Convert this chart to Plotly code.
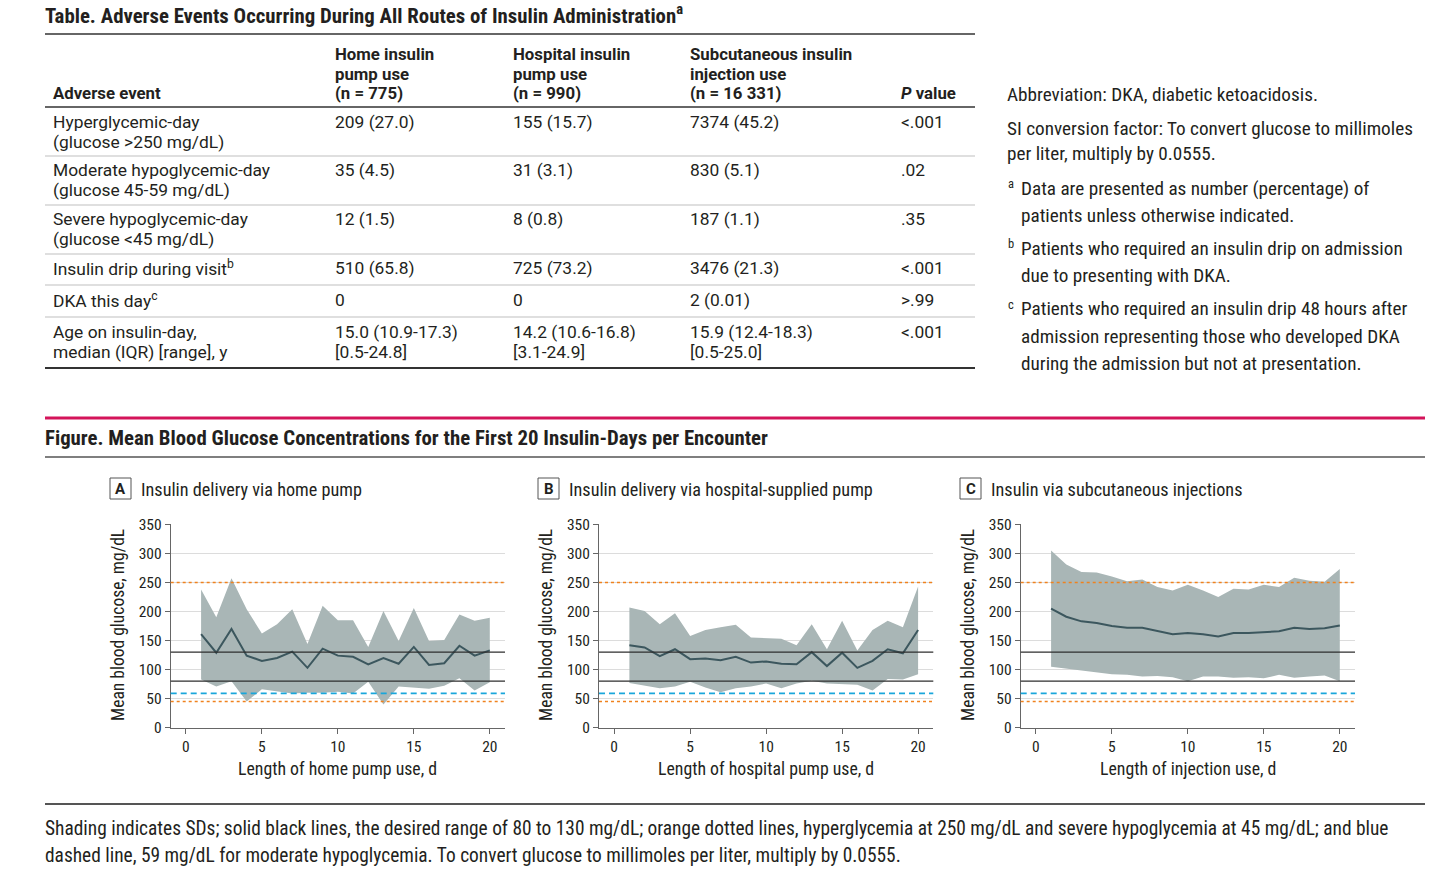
import plotly.graph_objects as go

W, H = 1456, 876
def X(p): return p / W
def Y(p): return 1 - p / H

# ---------------- data ----------------
days = list(range(1, 21))

home_mean  = [161, 129, 170, 124, 115, 120, 131, 103, 136, 124, 122, 109, 120, 110, 139, 108, 111, 141, 124, 133]
home_upper = [238, 190, 257, 204, 162, 178, 204, 144, 210, 185, 185, 139, 201, 149, 206, 149, 151, 195, 184, 189]
home_lower = [83, 71, 80, 45, 66, 63, 59, 60, 60, 62, 59, 79, 40, 71, 69, 67, 72, 85, 64, 78]

hosp_mean  = [142, 138, 123, 135, 118, 119, 116, 122, 112, 114, 110, 109, 130, 106, 129, 103, 115, 135, 128, 168]
hosp_upper = [207, 201, 178, 197, 158, 168, 173, 177, 155, 154, 153, 142, 178, 135, 184, 133, 168, 184, 173, 243]
hosp_lower = [77, 73, 68, 71, 79, 69, 61, 68, 71, 76, 68, 76, 81, 76, 75, 74, 64, 84, 83, 92]

inj_mean  = [205, 191, 183, 180, 175, 172, 172, 166, 161, 163, 161, 157, 163, 163, 165, 166, 172, 170, 171, 176]
inj_upper = [305, 281, 268, 267, 260, 252, 255, 242, 236, 246, 236, 225, 239, 238, 246, 242, 258, 253, 251, 273]
inj_lower = [105, 102, 98, 95, 92, 91, 88, 89, 87, 80, 88, 88, 86, 87, 85, 91, 86, 88, 90, 80]

target_range = [130, 80]        # solid black lines
orange_limits = [250, 45]       # orange dotted lines
blue_limit = [59]               # blue dashed line

x_ticks = [0, 5, 10, 15, 20]
y_ticks = [0, 50, 100, 150, 200, 250, 300, 350]

panel_letters = ["A", "B", "C"]
panel_titles = ["Insulin delivery via home pump",
                "Insulin delivery via hospital-supplied pump",
                "Insulin via subcutaneous injections"]
x_titles = ["Length of home pump use, d",
            "Length of hospital pump use, d",
            "Length of injection use, d"]
y_title = "Mean blood glucose, mg/dL"

table_title = "Table. Adverse Events Occurring During All Routes of Insulin Administration<sup>a</sup>"
header = [["Adverse event"],
          ["Home insulin", "pump use", "(n = 775)"],
          ["Hospital insulin", "pump use", "(n = 990)"],
          ["Subcutaneous insulin", "injection use", "(n = 16 331)"],
          ["<i>P</i> value"]]
event_col = [["Hyperglycemic-day", "(glucose &gt;250 mg/dL)"],
             ["Moderate hypoglycemic-day", "(glucose 45-59 mg/dL)"],
             ["Severe hypoglycemic-day", "(glucose &lt;45 mg/dL)"],
             ["Insulin drip during visit<sup>b</sup>"],
             ["DKA this day<sup>c</sup>"],
             ["Age on insulin-day,", "median (IQR) [range], y"]]
home_col = [["209 (27.0)"], ["35 (4.5)"], ["12 (1.5)"], ["510 (65.8)"], ["0"],
            ["15.0 (10.9-17.3)", "[0.5-24.8]"]]
hosp_col = [["155 (15.7)"], ["31 (3.1)"], ["8 (0.8)"], ["725 (73.2)"], ["0"],
            ["14.2 (10.6-16.8)", "[3.1-24.9]"]]
subq_col = [["7374 (45.2)"], ["830 (5.1)"], ["187 (1.1)"], ["3476 (21.3)"], ["2 (0.01)"],
            ["15.9 (12.4-18.3)", "[0.5-25.0]"]]
p_col = [["&lt;.001"], [".02"], [".35"], ["&lt;.001"], ["&gt;.99"], ["&lt;.001"]]

notes_plain = [["Abbreviation: DKA, diabetic ketoacidosis."],
               ["SI conversion factor: To convert glucose to millimoles", "per liter, multiply by 0.0555."]]
notes_foot = [("a", ["Data are presented as number (percentage) of", "patients unless otherwise indicated."]),
              ("b", ["Patients who required an insulin drip on admission", "due to presenting with DKA."]),
              ("c", ["Patients who required an insulin drip 48 hours after",
                     "admission representing those who developed DKA",
                     "during the admission but not at presentation."])]

figure_title = "Figure. Mean Blood Glucose Concentrations for the First 20 Insulin-Days per Encounter"
caption = ["Shading indicates SDs; solid black lines, the desired range of 80 to 130 mg/dL; orange dotted lines, hyperglycemia at 250 mg/dL and severe hypoglycemia at 45 mg/dL; and blue",
           "dashed line, 59 mg/dL for moderate hypoglycemia. To convert glucose to millimoles per liter, multiply by 0.0555."]

# ---------------- style ----------------
NARROW = "Liberation Sans Narrow, Arial Narrow, Roboto Condensed, Roboto"
BODY = "Roboto, Noto Sans, sans-serif"
TXT = "#231F20"
BAND = "#A9B6B6"
MEAN = "#3C575E"
ORANGE = "#F0821E"
BLUE = "#1AA6DB"

fig = go.Figure()
anns = []
shapes = []

def txt(x, y, s, size=17, family=BODY, color=TXT, anchor="left", **kw):
    if anchor == "left":
        x = x - 2
    anns.append(dict(x=X(x), y=Y(y), xref="paper", yref="paper", text=s, showarrow=False,
                     xanchor=anchor, yanchor="middle", font=dict(size=size, family=family, color=color), **kw))

def hline(x0, x1, y, color="#333", width=1.5):
    shapes.append(dict(type="line", xref="paper", yref="paper", x0=X(x0), x1=X(x1), y0=Y(y), y1=Y(y),
                       line=dict(color=color, width=width)))

# ---------------- table ----------------
txt(45, 14, "<b>" + table_title + "</b>", size=20.8, family=NARROW)
hline(45, 975, 34, "#333", 1.5)
hline(45, 975, 107, "#333", 1.5)
hline(45, 975, 368, "#333", 2.2)

col_x = [53, 335, 513, 690, 901]
for cx, lines in zip(col_x, header):
    n = len(lines)
    for i, s in enumerate(lines):
        txt(cx, 93 - (n - 1 - i) * 19.5, "<b>" + s + "</b>", size=16.8, family=BODY)

row_y = [122, 170, 219, 268, 300, 332]
sep_y = [156, 205, 254, 285, 317]
for sy in sep_y:
    hline(45, 975, sy, "#D5D5D5", 1.5)
for cx, col in zip(col_x, [event_col, home_col, hosp_col, subq_col, p_col]):
    for ry, lines in zip(row_y, col):
        for i, s in enumerate(lines):
            txt(cx, ry + i * 20, s, size=17.4, family=BODY)

# notes at the right
ny = [95, 128, 154]
k = 0
for block in notes_plain:
    for s in block:
        txt(1007, ny[k], s, size=19.2, family=NARROW)
        k += 1
foot_y = [188, 248, 309]
for (letter, lines), fy in zip(notes_foot, foot_y):
    txt(1008, fy - 5, letter, size=12.5, family=NARROW)
    for i, s in enumerate(lines):
        txt(1021, fy + i * 27, s, size=19.2, family=NARROW)

# ---------------- figure header/footer ----------------
shapes.append(dict(type="line", xref="paper", yref="paper", x0=X(45), x1=X(1425), y0=Y(418), y1=Y(418),
                   line=dict(color="#D4145A", width=3)))
txt(45, 438, "<b>" + figure_title + "</b>", size=20.8, family=NARROW)
hline(45, 1425, 457, "#555", 1.5)
hline(45, 1425, 804, "#555", 2)
txt(45, 828, caption[0], size=19.4, family=NARROW)
txt(45, 855, caption[1], size=19.4, family=NARROW)

# ---------------- panels ----------------
dom_x = [(170.7, 505.0), (599.0, 933.3), (1020.7, 1355.0)]
dom_y = [Y(727.7), Y(524.3)]
box_x = [110, 538, 960]
ytitle_x = [118, 546, 968]

series = [(home_mean, home_upper, home_lower),
          (hosp_mean, hosp_upper, hosp_lower),
          (inj_mean, inj_upper, inj_lower)]

layout_axes = {}
for i, (mean, up, lo) in enumerate(series):
    sfx = "" if i == 0 else str(i + 1)
    xa, ya = "x" + sfx, "y" + sfx
    fig.add_trace(go.Scatter(x=days, y=up, mode="lines", line=dict(width=0, color=BAND),
                             xaxis=xa, yaxis=ya, showlegend=False, hoverinfo="skip"))
    fig.add_trace(go.Scatter(x=days, y=lo, mode="lines", line=dict(width=0, color=BAND),
                             fill="tonexty", fillcolor=BAND, xaxis=xa, yaxis=ya,
                             showlegend=False, hoverinfo="skip"))
    fig.add_trace(go.Scatter(x=days, y=mean, mode="lines", line=dict(width=2, color=MEAN),
                             xaxis=xa, yaxis=ya, showlegend=False))
    layout_axes["xaxis" + sfx] = dict(domain=[X(dom_x[i][0]), X(dom_x[i][1])], anchor=ya,
                                      range=[-1, 21], tickvals=x_ticks, showgrid=False, zeroline=False,
                                      showline=True, linecolor="#666", linewidth=1, automargin=False,
                                      ticks="outside", ticklen=5, tickcolor="#666",
                                      tickfont=dict(family=NARROW, size=15.5, color=TXT))
    layout_axes["yaxis" + sfx] = dict(domain=dom_y, anchor=xa, range=[0, 350], tickvals=y_ticks,
                                      showgrid=True, gridcolor="#DCDCDC", gridwidth=1, zeroline=False,
                                      showline=True, linecolor="#666", linewidth=1, automargin=False,
                                      ticks="outside", ticklen=5, tickcolor="#666",
                                      tickfont=dict(family=NARROW, size=15.5, color=TXT))
    # reference lines
    for v in target_range:
        shapes.append(dict(type="line", xref=xa + " domain", yref=ya, x0=0, x1=1, y0=v, y1=v,
                           line=dict(color="#2E2E2E", width=1.3)))
    for v in orange_limits:
        shapes.append(dict(type="line", xref=xa + " domain", yref=ya, x0=0, x1=1, y0=v, y1=v,
                           line=dict(color=ORANGE, width=1.5, dash="dot")))
    for v in blue_limit:
        shapes.append(dict(type="line", xref=xa + " domain", yref=ya, x0=0, x1=1, y0=v, y1=v,
                           line=dict(color=BLUE, width=1.6, dash="6px,4px")))
    # panel heading
    bx = box_x[i]
    shapes.append(dict(type="rect", xref="paper", yref="paper", x0=X(bx), x1=X(bx + 21),
                       y0=Y(499), y1=Y(478), line=dict(color="#555", width=1)))
    txt(bx + 10.5, 489, "<b>" + panel_letters[i] + "</b>", size=15, family=BODY, anchor="center")
    txt(bx + 31, 489, panel_titles[i], size=18.2, family=NARROW)
    # axis titles
    txt((dom_x[i][0] + dom_x[i][1]) / 2, 768, x_titles[i], size=17.8, family=NARROW, anchor="center")
    anns.append(dict(x=X(ytitle_x[i]), y=Y(625), xref="paper", yref="paper", text=y_title,
                     showarrow=False, textangle=-90, xanchor="center", yanchor="middle",
                     font=dict(size=17.5, family=NARROW, color=TXT)))

fig.update_layout(width=W, height=H, margin=dict(l=0, r=0, t=0, b=0, pad=0, autoexpand=False),
                  autosize=False, paper_bgcolor="white", plot_bgcolor="white",
                  annotations=anns, shapes=shapes, showlegend=False, **layout_axes)

fig.write_html("out.html", config={"displayModeBar": False},
               post_script="document.body.style.margin='0px';document.body.style.overflow='hidden';")
